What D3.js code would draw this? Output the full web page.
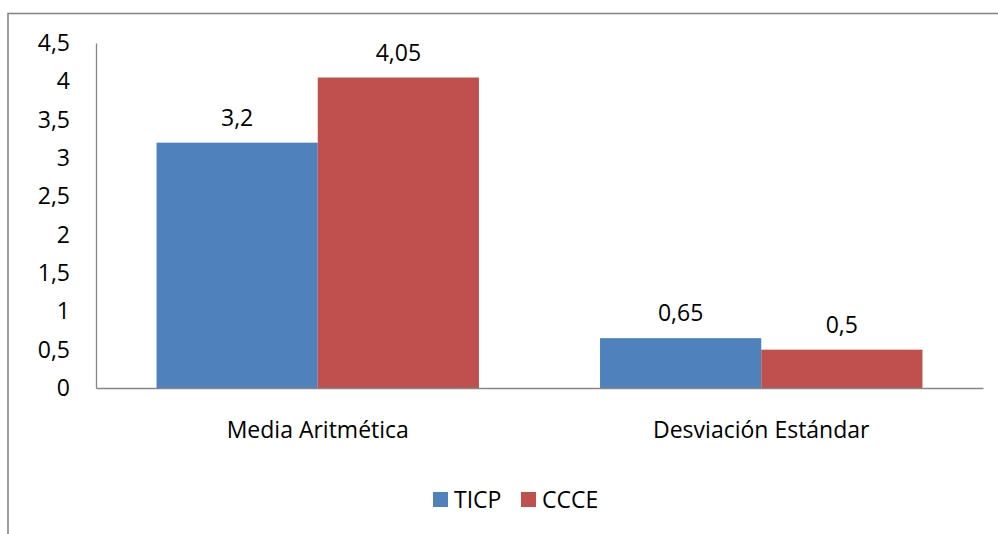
<!DOCTYPE html>
<html>
<head>
<meta charset="utf-8">
<script src="https://cdn.jsdelivr.net/npm/d3@7"></script>
<style>
  html, body { margin: 0; padding: 0; background: #fff; }
  svg { display: block; font-family: "Open Sans", sans-serif; }
</style>
</head>
<body>
<svg id="chart" width="998" height="534"></svg>
<script>
const categories = ["Media Aritmética", "Desviación Estándar"];
const seriesNames = ["TICP", "CCCE"];
const ticpValues = [3.2, 0.65];
const ccceValues = [4.05, 0.5];
const yTicks = [0, 0.5, 1, 1.5, 2, 2.5, 3, 3.5, 4, 4.5];
const colors = ["#4F81BD", "#C0504D"];

const svg = d3.select("#chart");
const fontSize = 23;
const fmt = v => String(v).replace(".", ",");

const margin = { left: 96, right: 983, top: 43, bottom: 388 };

// outer frame, right and bottom edges run off the picture
svg.append("rect")
    .attr("x", 8).attr("y", 13.5)
    .attr("width", 1100).attr("height", 600)
    .attr("fill", "none")
    .attr("stroke", "#868686")
    .attr("stroke-width", 1.6);

const y = d3.scaleLinear().domain([0, 4.5]).range([margin.bottom, margin.top]);
const x0 = d3.scaleBand().domain(categories).range([margin.left, margin.right])
    .paddingInner(0.273).paddingOuter(0.1365);
const x1 = d3.scaleBand().domain(seriesNames).range([0, x0.bandwidth()]);

const rows = categories.map((c, i) => ({
    cat: c,
    vals: [{ s: seriesNames[0], v: ticpValues[i] }, { s: seriesNames[1], v: ccceValues[i] }]
}));

const groups = svg.selectAll("g.grp").data(rows).join("g")
    .attr("class", "grp")
    .attr("transform", d => `translate(${x0(d.cat)},0)`);

groups.selectAll("rect").data(d => d.vals).join("rect")
    .attr("x", d => x1(d.s))
    .attr("y", d => y(d.v))
    .attr("width", x1.bandwidth())
    .attr("height", d => y(0) - y(d.v))
    .attr("fill", (d, i) => colors[i]);

groups.selectAll("text").data(d => d.vals).join("text")
    .attr("x", d => x1(d.s) + x1.bandwidth() / 2)
    .attr("y", d => y(d.v) - 17)
    .attr("text-anchor", "middle")
    .attr("font-size", fontSize)
    .attr("fill", "#000")
    .text(d => fmt(d.v));

// y axis
const yAxis = svg.append("g")
    .attr("transform", `translate(${margin.left},0)`)
    .call(d3.axisLeft(y).tickValues(yTicks).tickSize(0).tickPadding(26).tickFormat(fmt));
yAxis.select(".domain").attr("stroke", "#868686").attr("stroke-width", 1.3);
yAxis.selectAll("text").attr("font-size", fontSize).attr("font-family", "Open Sans").attr("fill", "#000");

// x axis
const xAxis = svg.append("g")
    .attr("transform", `translate(0,${margin.bottom})`)
    .call(d3.axisBottom(x0).tickSize(0).tickPadding(34));
xAxis.select(".domain").attr("stroke", "#868686").attr("stroke-width", 1.3);
xAxis.selectAll("text").attr("font-size", fontSize).attr("font-family", "Open Sans").attr("fill", "#000");

// legend
const legend = svg.append("g").attr("transform", "translate(433,492)");
const lx = [0, 88];
seriesNames.forEach((s, i) => {
    const g = legend.append("g").attr("transform", `translate(${lx[i]},0)`);
    g.append("rect").attr("width", 15).attr("height", 15).attr("fill", colors[i]);
    g.append("text").attr("x", 21).attr("y", 15.5)
        .attr("font-size", fontSize).attr("fill", "#000").text(s);
});
</script>
</body>
</html>
